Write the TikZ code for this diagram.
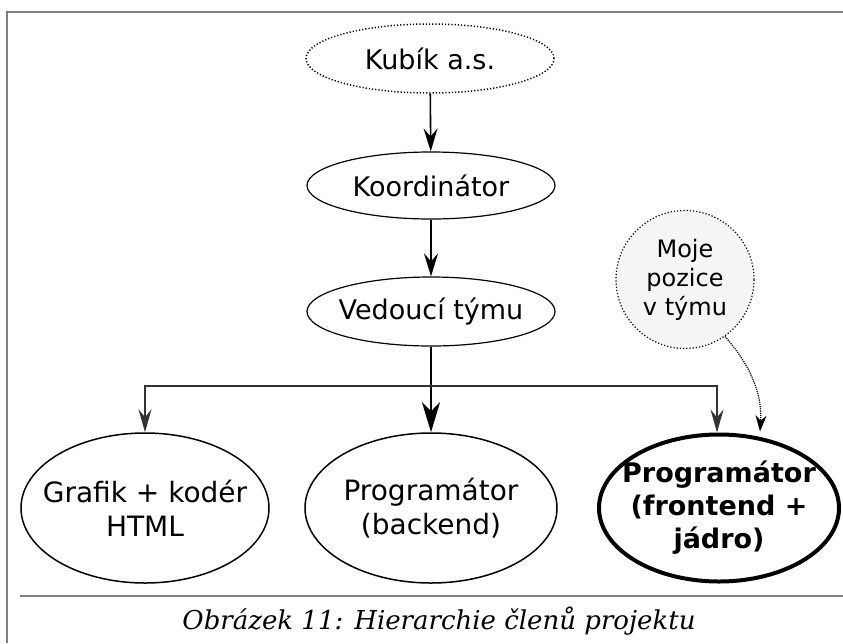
\documentclass[tikz,border=0pt]{standalone}
\usepackage{fontspec}
\setmainfont{DejaVu Sans}
\newfontfamily\capfont{DejaVu Serif}
\usetikzlibrary{shapes.geometric,arrows.meta}

\tikzset{
  frameline/.style={draw=black!50, line width=2pt},
  topbox/.style={ellipse, draw, line width=1.2pt, minimum width=248pt, minimum height=68pt,
                 inner ysep=0pt, inner xsep=-15pt, font=\fontsize{27}{32}\selectfont},
  rolebox/.style={ellipse, draw, line width=1.5pt, minimum width=248pt, minimum height=150pt,
                  inner ysep=0pt, inner xsep=-22pt, align=center, font=\fontsize{28}{34}\selectfont},
  link/.style={line width=1.6pt, -{Stealth[length=23pt, width=14pt, inset=8pt]}},
  branch/.style={line width=1.4pt, draw=black!80, -{Stealth[length=23pt, width=13pt, inset=8pt]}}
}

\begin{document}
\begin{tikzpicture}[x=1pt, y=-1pt]
  \useasboundingbox (0,0) rectangle (843,643);

  % page frame and caption rule
  \draw[frameline] (7,643) -- (7,12) -- (843,12);
  \draw[frameline] (20,596) -- (843,596);

  % hierarchy
  \node[topbox, dotted, line width=1.5pt, minimum height=69pt] (firm) at (430,58.5) {Kubík a.s.};
  \node[topbox, minimum height=67pt] (coord) at (431,185.5) {Koordinátor};
  \node[topbox, minimum height=69pt] (lead) at (431,311.5) {Vedoucí týmu};

  \node[rolebox] (gfx) at (145,508) {Grafik + kodér\\HTML};
  \node[rolebox, minimum width=252pt] (back) at (431,508) {Programátor\\(backend)};
  \node[rolebox, line width=4pt, minimum width=240pt, minimum height=147pt,
        font=\fontsize{27}{33}\selectfont\bfseries] (front) at (719,508)
        {Programátor\\(frontend +\\jádro)};

  \node[circle, draw, dotted, line width=1.2pt, fill=black!4, minimum size=138pt,
        inner sep=0pt, align=center, font=\fontsize{24}{29}\selectfont] (me) at (685,279.5)
        {Moje\\pozice\\v týmu};

  % connectors
  \draw[link] (firm) -- (coord);
  \draw[link] (coord) -- (lead);
  \draw[line width=1.8pt, -{Stealth[length=30pt, width=18pt, inset=9pt]}] (lead.south) -- (back.north);
  \coordinate (split) at (431,386);
  \draw[branch] (split) -| (gfx.north);
  \draw[branch] (split) -| ([xshift=-2pt]front.north);
  \draw[densely dotted, line width=1.2pt, -{Stealth[length=16pt, width=11pt, inset=5pt]}]
        (me.-55) .. controls (755,370) and (762,400) .. ([xshift=41pt,yshift=1pt]front.north);

  % caption
  \node[font=\capfont\itshape\fontsize{26}{30}\selectfont] (cap) at (439,621)
        {Obrázek 11: Hierarchie členů projektu};
\end{tikzpicture}
\end{document}
